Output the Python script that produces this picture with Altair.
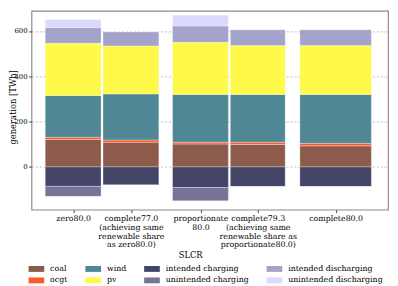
import altair as alt
import pandas as pd

scenarios = ["zero80.0", "complete77.0", "proportionate80.0", "complete79.3", "complete80.0"]
labels = [
    ["zero80.0"],
    ["complete77.0", "(achieving same", "renewable share", "as zero80.0)"],
    ["proportionate", "80.0"],
    ["complete79.3", "(achieving same", "renewable share as", "proportionate80.0)"],
    ["complete80.0"],
]
carriers = ["coal", "ocgt", "wind", "pv", "intended discharging", "unintended discharging",
            "intended charging", "unintended charging"]
coal = [121, 109, 101, 99, 93]
ocgt = [10, 10, 8, 10, 11]
wind = [184, 203, 211, 211, 216]
pv = [231, 212, 230, 216, 216]
int_dis = [69, 62, 72, 69, 69]
unint_dis = [36, 0, 48, 0, 0]
int_ch = [-86, -79, -91, -86, -86]
unint_ch = [-44, 0, -59, 0, 0]
series = [coal, ocgt, wind, pv, int_dis, unint_dis, int_ch, unint_ch]

# layout of bars along the x axis (axis units = plot pixels)
bar_center = [42.5, 101.5, 172.5, 231, 310.5]
bar_width = [57, 57, 57, 56, 73]

legend_order = ["coal", "ocgt", "wind", "pv", "intended charging", "unintended charging",
                "intended discharging", "unintended discharging"]
palette = {"coal": "#8C5B4B", "ocgt": "#FA5A2A", "wind": "#4F8795", "pv": "#FFF94A",
           "intended charging": "#434467", "unintended charging": "#767397",
           "intended discharging": "#A3A3CB", "unintended discharging": "#DBD9FC"}

rows = []
for i, s in enumerate(scenarios):
    for k, c in enumerate(carriers):
        v = series[k][i]
        if v == 0:
            continue
        rows.append({"scenario": s, "carrier": c, "value": v, "ord": k,
                     "x0": bar_center[i] - bar_width[i] / 2,
                     "x1": bar_center[i] + bar_width[i] / 2})
df = pd.DataFrame(rows)

expr = "''"
for c, lab in zip(reversed(bar_center), reversed(labels)):
    arr = "[" + ",".join("'" + l + "'" for l in lab) + "]"
    expr = f"abs(datum.value - {c}) < 1 ? {arr} : ({expr})"

font = "DejaVu Serif"

chart = alt.Chart(df).transform_stack(
    stack="value", groupby=["scenario"], as_=["y0", "y1"],
    sort=[alt.SortField("ord", order="ascending")], offset="zero",
).mark_bar(stroke="white", strokeWidth=0.7, strokeOpacity=0.45).encode(
    x=alt.X("x0:Q", scale=alt.Scale(domain=[0, 364], nice=False, zero=False),
            axis=alt.Axis(values=bar_center, labelExpr=expr, grid=False, title="SLCR",
                          labelFontSize=8, labelLineHeight=9, labelPadding=2,
                          labelOverlap=False, labelBound=False, labelFlush=False,
                          tickSize=3, tickColor="#444", domain=False,
                          titleFontSize=8.5, titleFontWeight="normal",
                          titleX=162, titleY=46, titleBaseline="middle",
                          labelColor="black", titleColor="black")),
    x2="x1:Q",
    y=alt.Y("y0:Q",
            scale=alt.Scale(domain=[-189, 689], nice=False, zero=False),
            axis=alt.Axis(values=[0, 200, 400, 600], title="generation [TWh]",
                          labelFontSize=7, labelPadding=1.5, tickSize=3, tickColor="#444",
                          domain=False, grid=True, gridDash=[2, 2], gridColor="#aaaaaa",
                          gridWidth=0.8, titleFontSize=8.5, titleFontWeight="normal",
                          titleX=-19.5, titleY=98, titleBaseline="middle", titleAngle=270,
                          titleAlign="center", labelColor="black", titleColor="black")),
    y2="y1:Q",
    color=alt.Color("carrier:N",
                    scale=alt.Scale(domain=legend_order, range=[palette[c] for c in legend_order]),
                    legend=alt.Legend(title=None, orient="none", legendX=1, legendY=259.5,
                                      columns=4, columnPadding=18, rowPadding=3.7,
                                      symbolType="M-2,-0.75h4v1.5h-4z", symbolSize=64,
                                      symbolStrokeWidth=0, labelOffset=10, labelFontSize=8,
                                      labelColor="black", padding=0, symbolOpacity=1)),
).properties(
    width=364, height=203,
    autosize=alt.AutoSizeParams(type="none"),
    padding={"left": 24, "top": 0, "right": 2, "bottom": 75},
).configure(font=font).configure_view(stroke="#8a8a8a", strokeWidth=1.2)

chart.save("out.html", embed_options={"renderer": "svg", "actions": False})
